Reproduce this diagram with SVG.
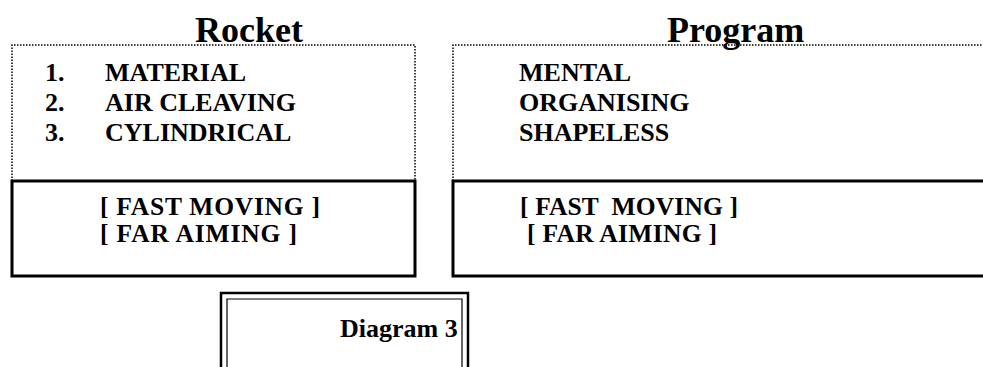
<svg xmlns="http://www.w3.org/2000/svg" width="983" height="367" viewBox="0 0 983 367">
<style>
text{font-family:"Liberation Serif","Times New Roman",serif;font-weight:bold;fill:#000}
.t{font-size:36px}
.b{font-size:26px}
.c{font-size:25.5px}
.dot{fill:none;stroke:#000;stroke-width:1.5;stroke-dasharray:1.5 1.5}
.solid{fill:none;stroke:#000;stroke-width:3}
</style>
<rect width="983" height="367" fill="#fff"/>
<g id="rocket">
<text class="t" x="195" y="42">Rocket</text>
<path class="dot" d="M12,181 V45 H415 V181"/>
<text class="b" x="45" y="81">1.</text>
<text class="b" x="105" y="81">MATERIAL</text>
<text class="b" x="45" y="111">2.</text>
<text class="b" x="105" y="111">AIR CLEAVING</text>
<text class="b" x="45" y="141">3.</text>
<text class="b" x="105" y="141">CYLINDRICAL</text>
</g>
<g id="rocket-bottom">
<rect class="solid" x="12" y="181" width="403" height="95"/>
<text class="c" x="100" y="215" textLength="220">[ FAST MOVING ]</text>
<text class="c" x="100" y="242" textLength="197">[ FAR AIMING ]</text>
</g>
<g id="program">
<text class="t" x="667" y="42">Program</text>
<path class="dot" d="M453,181 V45 H990"/>
<text class="b" x="519" y="81">MENTAL</text>
<text class="b" x="519" y="111">ORGANISING</text>
<text class="b" x="519" y="141">SHAPELESS</text>
</g>
<g id="program-bottom">
<rect class="solid" x="453" y="181" width="540" height="95"/>
<text class="c" x="520" y="215" xml:space="preserve" textLength="218">[ FAST  MOVING ]</text>
<text class="c" x="527" y="242" textLength="190">[ FAR AIMING ]</text>
</g>
<g id="diagram3">
<path d="M221,372 V293 H468 V372" fill="none" stroke="#000" stroke-width="2.5"/>
<path d="M227,372 V299 H462 V372" fill="none" stroke="#000" stroke-width="1.2"/>
<text class="b" x="340" y="337">Diagram 3</text>
</g>
<g id="connectors"></g>
</svg>
